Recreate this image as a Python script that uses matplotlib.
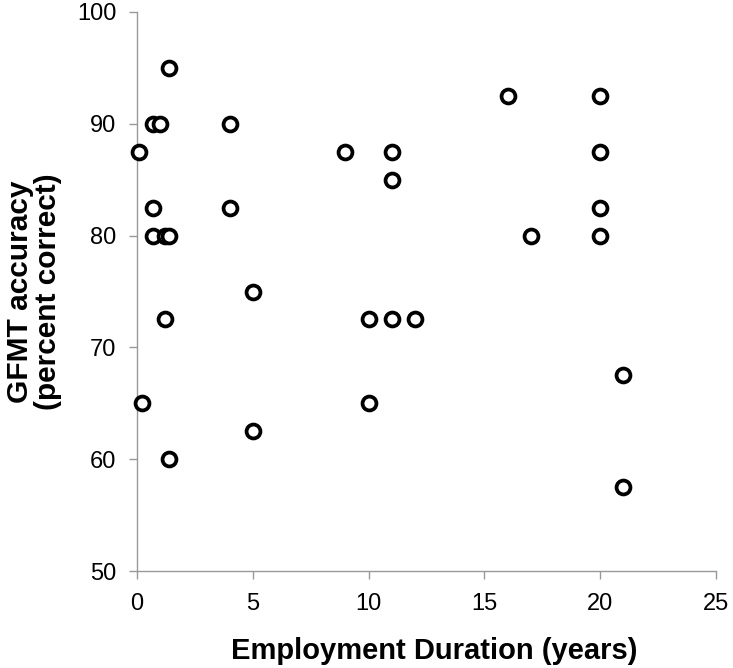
import matplotlib
matplotlib.use('Agg')
import matplotlib.pyplot as plt

plt.rcParams['font.family'] = ['Liberation Sans', 'DejaVu Sans']

# employment duration (years) vs GFMT accuracy (% correct)
years = [1.4, 0.7, 1.0, 4, 0.1, 0.7, 4, 0.7, 1.2, 1.4, 5, 1.2, 0.2, 5, 1.4,
         9, 11, 11, 10, 11, 12, 10, 16, 17, 20, 20, 20, 20, 21, 21]
accuracy = [95, 90, 90, 90, 87.5, 82.5, 82.5, 80, 80, 80, 75, 72.5, 65, 62.5, 60,
            87.5, 87.5, 85, 72.5, 72.5, 72.5, 65, 92.5, 80, 92.5, 87.5, 82.5, 80, 67.5, 57.5]

xticks = [0, 5, 10, 15, 20, 25]
yticks = [50, 60, 70, 80, 90, 100]

fig = plt.figure(figsize=(7.33, 6.68), dpi=100)
ax = fig.add_axes([137/733., 1-571/668., (716-137)/733., (571-12)/668.])

ax.scatter(years, accuracy, s=100, facecolors='white', edgecolors='black',
           linewidths=2.7, zorder=3, clip_on=False)

ax.set_xlim(0, 25)
ax.set_ylim(50, 100)
ax.set_xticks(xticks)
ax.set_yticks(yticks)

for s in ['top', 'right']:
    ax.spines[s].set_visible(False)
for s in ['left', 'bottom']:
    ax.spines[s].set_color('#999999')
    ax.spines[s].set_linewidth(1.0)
ax.tick_params(axis='both', colors='#999999', length=6, width=1.0, labelsize=17,
               labelcolor='black')
ax.tick_params(axis='x', pad=10)
ax.tick_params(axis='y', pad=9)

# x label sits very low in the original, so place it by hand
fig.text(434/733., 1-659/668., 'Employment Duration (years)', fontsize=21,
         fontweight='bold', ha='center', va='baseline')
ax.set_ylabel('GFMT accuracy\n(percent correct)', fontsize=21.5, fontweight='bold',
              labelpad=11, linespacing=1.0)

fig.savefig('out.png', dpi=100)
